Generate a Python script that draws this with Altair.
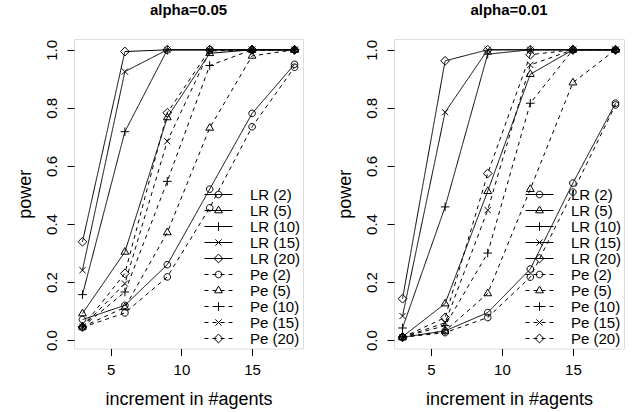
import altair as alt
import pandas as pd

# ---------------- data ----------------
x_vals = [3, 6, 9, 12, 15, 18]
series = ["LR (2)", "LR (5)", "LR (10)", "LR (15)", "LR (20)",
          "Pe (2)", "Pe (5)", "Pe (10)", "Pe (15)", "Pe (20)"]

lr2_05 = [0.071, 0.120, 0.260, 0.520, 0.781, 0.950]
lr5_05 = [0.092, 0.304, 0.767, 0.988, 1.000, 1.000]
lr10_05 = [0.157, 0.718, 1.000, 1.000, 1.000, 1.000]
lr15_05 = [0.241, 0.925, 1.000, 1.000, 1.000, 1.000]
lr20_05 = [0.339, 0.994, 1.000, 1.000, 1.000, 1.000]
pe2_05 = [0.044, 0.094, 0.218, 0.456, 0.735, 0.940]
pe5_05 = [0.046, 0.113, 0.371, 0.731, 0.979, 1.000]
pe10_05 = [0.046, 0.166, 0.547, 0.946, 1.000, 1.000]
pe15_05 = [0.046, 0.195, 0.685, 0.996, 1.000, 1.000]
pe20_05 = [0.046, 0.230, 0.783, 1.000, 1.000, 1.000]

lr2_01 = [0.010, 0.032, 0.095, 0.245, 0.541, 0.816]
lr5_01 = [0.012, 0.126, 0.513, 0.916, 1.000, 1.000]
lr10_01 = [0.042, 0.459, 0.985, 1.000, 1.000, 1.000]
lr15_01 = [0.083, 0.785, 1.000, 1.000, 1.000, 1.000]
lr20_01 = [0.143, 0.962, 1.000, 1.000, 1.000, 1.000]
pe2_01 = [0.010, 0.026, 0.078, 0.217, 0.510, 0.810]
pe5_01 = [0.010, 0.032, 0.161, 0.520, 0.887, 1.000]
pe10_01 = [0.010, 0.050, 0.300, 0.816, 1.000, 1.000]
pe15_01 = [0.010, 0.060, 0.448, 0.948, 1.000, 1.000]
pe20_01 = [0.010, 0.078, 0.574, 0.983, 1.000, 1.000]

panel_titles = ["alpha=0.05", "alpha=0.01"]
y_ticks = [0.0, 0.2, 0.4, 0.6, 0.8, 1.0]
x_ticks = [5, 10, 15]

values_05 = [lr2_05, lr5_05, lr10_05, lr15_05, lr20_05,
             pe2_05, pe5_05, pe10_05, pe15_05, pe20_05]
values_01 = [lr2_01, lr5_01, lr10_01, lr15_01, lr20_01,
             pe2_01, pe5_01, pe10_01, pe15_01, pe20_01]

# ---------------- symbols (R pch 1..5) ----------------
CIRCLE = "M3.3,0A3.3,3.3,0,1,1,-3.3,0A3.3,3.3,0,1,1,3.3,0Z"
TRIANGLE = "M0,-4.4L3.9,2.3L-3.9,2.3Z"
PLUS = "M-4.3,0L4.3,0M0,-4.3L0,4.3"
CROSS = "M-3.1,-3.1L3.1,3.1M-3.1,3.1L3.1,-3.1"
DIAMOND = "M0,-4.4L4.4,0L0,4.4L-4.4,0Z"
markers = [CIRCLE, TRIANGLE, PLUS, CROSS, DIAMOND] * 2

SOLID_SEG = "M-14,0L14,0"
DASH_SEG = "M-14,0L-10,0M-6,0L-2,0M2,0L6,0M10,0L14,0"
legend_paths = [SOLID_SEG + m for m in markers[:5]] + [DASH_SEG + m for m in markers[5:]]

FONT = "Liberation Sans"


def make_df(vals):
    rows = []
    for s, v in zip(series, vals):
        for xv, yv in zip(x_vals, v):
            rows.append({"x": xv, "power": yv, "series": s, "kind": s[:2]})
    return pd.DataFrame(rows)


def panel(vals, title, width):
    df = make_df(vals)
    base = alt.Chart(df)
    xenc = alt.X("x:Q", scale=alt.Scale(domain=[2.4, 18.6], nice=False, zero=False),
                 axis=alt.Axis(values=x_ticks, title="increment in #agents", domain=False,
                               grid=False, tickSize=7, tickColor="black", labelColor="black",
                               labelFont=FONT, labelFontSize=15, labelPadding=7,
                               titleFont=FONT, titleFontSize=18, titleFontWeight="normal",
                               titleColor="black", titlePadding=13))
    yenc = alt.Y("power:Q", scale=alt.Scale(domain=[-0.0286, 1.0372], nice=False, zero=False),
                 axis=alt.Axis(values=y_ticks, format=".1f", title="power", domain=False,
                               grid=False, tickSize=7, tickColor="black", labelColor="black",
                               labelAngle=270, labelAlign="center", labelBaseline="bottom",
                               labelFont=FONT, labelFontSize=15, labelPadding=8,
                               titleFont=FONT, titleFontSize=18, titleFontWeight="normal",
                               titleColor="black", titlePadding=10))
    lines = base.mark_line(color="black", strokeWidth=1).encode(
        x=xenc, y=yenc, detail="series:N",
        strokeDash=alt.StrokeDash("kind:N", scale=alt.Scale(domain=["LR", "Pe"], range=[[1, 0], [4, 4]]),
                                  legend=None),
    )
    points = base.mark_point(filled=False, color="black", size=4, strokeWidth=1, opacity=1).encode(
        x=xenc, y=yenc,
        shape=alt.Shape("series:N", scale=alt.Scale(domain=series, range=markers), legend=None),
    )
    leg = base.mark_point(filled=False, color="black", size=4, strokeWidth=1, opacity=1).encode(
        x=xenc, y=yenc,
        shape=alt.Shape("series:N", scale=alt.Scale(domain=series, range=legend_paths),
                        legend=alt.Legend(title=None, orient="bottom-right", offset=2, padding=0,
                                          symbolSize=4, symbolStrokeWidth=1, symbolStrokeColor="black",
                                          labelFont=FONT, labelFontSize=15, labelColor="black",
                                          labelOffset=24, rowPadding=0)),
    ).transform_filter("false")
    return alt.layer(lines, points, leg).resolve_scale(shape="independent").properties(
        width=width, height=309.5,
        title=alt.TitleParams(title, font=FONT, fontSize=15, fontWeight="bold", color="black",
                              anchor="middle", offset=21.5),
    )


chart = alt.hconcat(panel(values_05, panel_titles[0], 229), panel(values_01, panel_titles[1], 230),
                    spacing=31).resolve_scale(shape="independent").properties(
    padding={"left": 15, "top": 2, "right": 0, "bottom": 0}
).configure_view(stroke="black", strokeWidth=1).configure(background="white")

chart.save("out.html", embed_options={"renderer": "svg", "actions": False})
